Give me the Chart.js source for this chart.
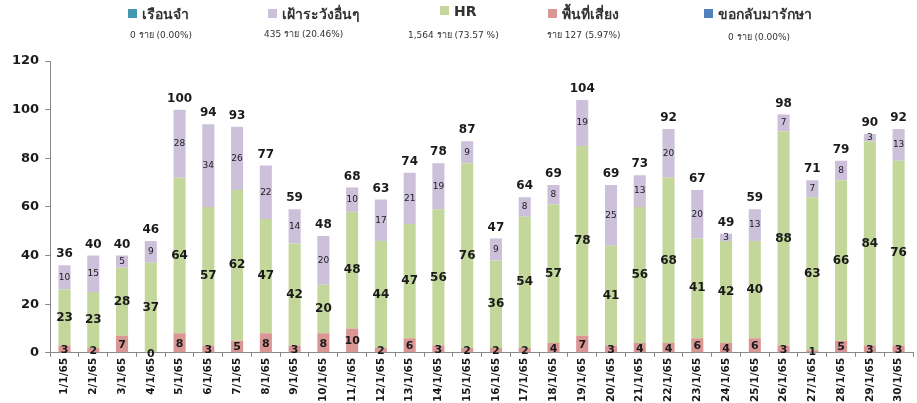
<!DOCTYPE html>
<html>
<head>
<meta charset="utf-8">
<script src="https://cdn.jsdelivr.net/npm/chart.js@4"></script>
<style>
  body { margin: 0; background: #fff; font-family: Tahoma, "DejaVu Sans", "Noto Sans", sans-serif; }
  #wrap { position: relative; width: 917px; height: 403px; }
  #chart { position: absolute; left: 0; top: 0; }
  .lg { position: absolute; font-weight: bold; font-size: 14px; color: #333; white-space: nowrap; }
  .lg span { display: inline-block; width: 9px; height: 9px; margin-right: 5px; vertical-align: 1px; }
  .sub { position: absolute; font-size: 9px; color: #333; white-space: nowrap; }
</style>
</head>
<body>
<div id="wrap">
  <canvas id="chart" width="917" height="403"></canvas>
  <div class="lg" style="left:128px;top:3px"><span style="background:#4198AF"></span>เรือนจำ</div>
  <div class="lg" style="left:268px;top:3px"><span style="background:#CCC1DA"></span>เฝ้าระวังอื่นๆ</div>
  <div class="lg" style="left:440px;top:3px"><span style="background:#C3D69B"></span>HR</div>
  <div class="lg" style="left:548px;top:3px"><span style="background:#D99694"></span>พื้นที่เสี่ยง</div>
  <div class="lg" style="left:704px;top:3px"><span style="background:#4F81BD"></span>ขอกลับมารักษา</div>
  <div class="sub" style="left:130px;top:28px">0 ราย (0.00%)</div>
  <div class="sub" style="left:264px;top:27px">435 ราย (20.46%)</div>
  <div class="sub" style="left:408px;top:28px">1,564 ราย (73.57 %)</div>
  <div class="sub" style="left:547px;top:28px">ราย 127 (5.97%)</div>
  <div class="sub" style="left:728px;top:30px">0 ราย (0.00%)</div>
</div>
<script>
const days = ['1/1/65','2/1/65','3/1/65','4/1/65','5/1/65','6/1/65','7/1/65','8/1/65','9/1/65','10/1/65',
  '11/1/65','12/1/65','13/1/65','14/1/65','15/1/65','16/1/65','17/1/65','18/1/65','19/1/65','20/1/65',
  '21/1/65','22/1/65','23/1/65','24/1/65','25/1/65','26/1/65','27/1/65','28/1/65','29/1/65','30/1/65'];
const risk = [3,2,7,0,8,3,5,8,3,8,10,2,6,3,2,2,2,4,7,3,4,4,6,4,6,3,1,5,3,3];
const hr = [23,23,28,37,64,57,62,47,42,20,48,44,47,56,76,36,54,57,78,41,56,68,41,42,40,88,63,66,84,76];
const watch = [10,15,5,9,28,34,26,22,14,20,10,17,21,19,9,9,8,8,19,25,13,20,20,3,13,7,7,8,3,13];
const prison = days.map(() => 0);
const returned = days.map(() => 0);
const yTicks = [0,20,40,60,80,100,120];

const labelFont = '"Tahoma", "DejaVu Sans", sans-serif';

const barLabels = {
    id: 'barLabels',
    afterDatasetsDraw(chart) {
        const ctx = chart.ctx;
        ctx.save();
        ctx.textAlign = 'center';
        ctx.textBaseline = 'middle';
        ctx.fillStyle = '#1a1a1a';
        const styles = {
            risk: 'bold 11px ' + labelFont,
            hr: 'bold 12px ' + labelFont,
            watch: '9px ' + labelFont
        };
        chart.data.datasets.forEach((ds, i) => {
            if (!styles[ds.key]) return;
            const meta = chart.getDatasetMeta(i);
            ctx.font = styles[ds.key];
            meta.data.forEach((bar, j) => {
                const v = ds.data[j];
                const yc = (bar.y + bar.base) / 2;
                ctx.fillText(String(v), bar.x, ds.key === 'risk' ? yc + 1 : yc);
            });
        });
        // totals above each stack
        const top = chart.getDatasetMeta(2);
        ctx.font = 'bold 12px ' + labelFont;
        ctx.textBaseline = 'bottom';
        top.data.forEach((bar, j) => {
            const total = risk[j] + hr[j] + watch[j];
            ctx.fillText(String(total), bar.x, bar.y - 5);
        });
        ctx.restore();
    }
};

new Chart(document.getElementById('chart'), {
    type: 'bar',
    data: {
        labels: days,
        datasets: [
            { key: 'risk', label: 'พื้นที่เสี่ยง', data: risk, backgroundColor: '#DA9694' },
            { key: 'hr', label: 'HR', data: hr, backgroundColor: '#C4D79B' },
            { key: 'watch', label: 'เฝ้าระวังอื่นๆ', data: watch, backgroundColor: '#CCC0DA' },
            { key: 'prison', label: 'เรือนจำ', data: prison, backgroundColor: '#4198AF' },
            { key: 'returned', label: 'ขอกลับมารักษา', data: returned, backgroundColor: '#4F81BD' }
        ]
    },
    options: {
        responsive: false,
        animation: false,
        layout: { padding: { top: 61, right: 4, left: 6, bottom: 0 } },
        datasets: { bar: { barPercentage: 0.42, categoryPercentage: 1.0 } },
        plugins: {
            legend: { display: false },
            tooltip: { enabled: false }
        },
        scales: {
            x: {
                stacked: true,
                grid: { display: true, drawOnChartArea: false, offset: true, tickLength: 4, color: '#888' },
                border: { color: '#888' },
                ticks: {
                    minRotation: 90, maxRotation: 90, autoSkip: false, padding: 1,
                    color: '#1a1a1a',
                    font: { family: labelFont, size: 10.5, weight: 'bold' }
                }
            },
            y: {
                stacked: true,
                min: 0, max: 120,
                afterBuildTicks: (axis) => { axis.ticks = yTicks.map(v => ({ value: v })); },
                grid: { display: true, drawOnChartArea: false, tickLength: 5, color: '#888' },
                border: { color: '#888' },
                ticks: {
                    color: '#1a1a1a', padding: 6,
                    font: { family: labelFont, size: 13, weight: 'bold' }
                }
            }
        }
    },
    plugins: [barLabels]
});
</script>
</body>
</html>
